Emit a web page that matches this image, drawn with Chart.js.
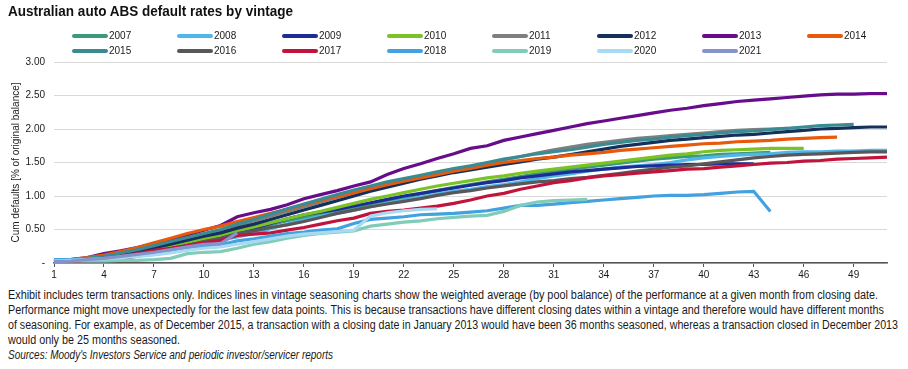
<!DOCTYPE html>
<html><head><meta charset="utf-8">
<script src="https://cdn.jsdelivr.net/npm/chart.js@4.4.0/dist/chart.umd.min.js"></script>
<style>
html,body{margin:0;padding:0;background:#fff;width:908px;height:369px;overflow:hidden}
#wrap{position:relative;width:908px;height:369px}
#c{position:absolute;left:0;top:0}
#title{position:absolute;left:8px;top:2px;font-family:"Liberation Sans",Arial,sans-serif;font-weight:bold;font-size:15px;line-height:18px;color:#111;white-space:nowrap;transform-origin:0 0}
#note{position:absolute;left:8px;top:288px;font-family:"Liberation Sans",Arial,sans-serif;font-size:12px;line-height:15px;color:#1a1a1a;white-space:nowrap}
#note .ln{display:block;width:max-content;transform-origin:0 0}
</style></head><body>
<div id="wrap"><canvas id="c" width="908" height="285" style="width:908px;height:285px"></canvas>
<div id="title" data-w="285">Australian auto ABS default rates by vintage</div>
<div id="note"><span class="ln" data-w="870">Exhibit includes term transactions only. Indices lines in vintage seasoning charts show the weighted average (by pool balance) of the performance at a given month from closing date.</span><span class="ln" data-w="876">Performance might move unexpectedly for the last few data points. This is because transactions have different closing dates within a vintage and therefore would have different months</span><span class="ln" data-w="890">of seasoning. For example, as of December 2015, a transaction with a closing date in January 2013 would have been 36 months seasoned, whereas a transaction closed in December 2013</span><span class="ln" data-w="172">would only be 25 months seasoned.</span><span class="ln" data-w="325" style="font-style:italic">Sources: Moody's Investors Service and periodic investor/servicer reports</span></div>
</div>
<script>
const months = ['1','2','3','4','5','6','7','8','9','10','11','12','13','14','15','16','17','18','19','20','21','22','23','24','25','26','27','28','29','30','31','32','33','34','35','36','37','38','39','40','41','42','43','44','45','46','47','48','49','50','51'];
const vintages = ['2007','2008','2009','2010','2011','2012','2013','2014','2015','2016','2017','2018','2019','2020','2021'];
const yTicks = [0, 0.5, 1, 1.5, 2, 2.5, 3];

const v2007 = [0.03,0.04,0.06,0.09,0.12,0.16,0.20,0.25,0.30,0.35,0.40,0.46,0.51,0.57,0.63,0.68,0.73,0.78,0.83,0.88,0.93,0.98,1.03,1.08,1.13,1.17,1.21,1.25,1.29,1.33,1.37,1.40,1.43,1.46,1.49,1.52,1.55,1.57,1.59,1.60,1.62,1.63,1.64,1.65];
const v2008 = [0.04,0.05,0.06,0.08,0.10,0.13,0.16,0.20,0.25,0.30,0.34,0.39,0.44,0.51,0.58,0.64,0.70,0.74,0.79,0.84,0.89,0.94,0.98,1.03,1.07,1.10,1.14,1.17,1.21,1.26,1.30,1.33,1.37,1.40,1.43,1.45,1.47,1.50,1.54,1.57,1.59,1.61,1.62,1.63,1.65,1.66,1.66,1.67,1.67,1.68,1.68];
const v2009 = [0.02,0.03,0.05,0.08,0.11,0.15,0.20,0.25,0.30,0.35,0.39,0.46,0.52,0.59,0.66,0.72,0.76,0.80,0.85,0.90,0.95,1.00,1.04,1.08,1.12,1.16,1.20,1.23,1.27,1.30,1.33,1.36,1.38,1.40,1.42,1.44,1.45,1.46,1.47,1.47,1.48,1.48,1.48];
const v2010 = [0.02,0.04,0.06,0.08,0.12,0.16,0.21,0.26,0.31,0.36,0.41,0.48,0.54,0.60,0.66,0.72,0.77,0.83,0.89,0.95,1.00,1.05,1.10,1.15,1.19,1.23,1.27,1.30,1.34,1.37,1.40,1.43,1.46,1.49,1.52,1.55,1.58,1.61,1.63,1.66,1.68,1.69,1.70,1.71,1.71,1.71];
const v2011 = [0.03,0.05,0.07,0.10,0.14,0.19,0.24,0.30,0.36,0.42,0.48,0.56,0.63,0.70,0.77,0.84,0.91,0.98,1.05,1.11,1.17,1.23,1.29,1.34,1.39,1.44,1.49,1.54,1.59,1.64,1.69,1.73,1.77,1.80,1.83,1.86,1.88,1.90,1.92,1.94,1.96,1.98,1.99,2.00,2.01];
const v2012 = [0.02,0.04,0.06,0.09,0.13,0.18,0.23,0.28,0.34,0.40,0.45,0.52,0.58,0.65,0.72,0.79,0.86,0.93,1.00,1.07,1.13,1.19,1.25,1.30,1.35,1.39,1.43,1.47,1.51,1.55,1.58,1.62,1.66,1.70,1.74,1.77,1.80,1.83,1.85,1.87,1.89,1.91,1.92,1.94,1.96,1.98,2.00,2.01,2.02,2.03,2.03];
const v2013 = [0.03,0.05,0.08,0.14,0.18,0.23,0.29,0.35,0.42,0.49,0.56,0.69,0.75,0.80,0.87,0.96,1.02,1.08,1.15,1.21,1.32,1.41,1.48,1.56,1.63,1.71,1.75,1.83,1.88,1.93,1.98,2.03,2.08,2.12,2.16,2.20,2.24,2.28,2.31,2.35,2.38,2.41,2.43,2.45,2.47,2.49,2.51,2.52,2.52,2.53,2.53];
const v2014 = [0.03,0.05,0.08,0.12,0.17,0.23,0.30,0.37,0.44,0.50,0.55,0.62,0.68,0.74,0.80,0.87,0.93,0.99,1.05,1.11,1.17,1.22,1.27,1.32,1.37,1.41,1.46,1.50,1.53,1.56,1.58,1.61,1.63,1.65,1.68,1.70,1.72,1.74,1.76,1.78,1.79,1.81,1.82,1.83,1.85,1.86,1.87,1.88];
const v2015 = [0.02,0.04,0.07,0.10,0.15,0.20,0.26,0.32,0.38,0.44,0.50,0.58,0.65,0.73,0.81,0.88,0.95,1.02,1.09,1.15,1.21,1.26,1.31,1.36,1.41,1.45,1.50,1.55,1.59,1.63,1.66,1.69,1.73,1.77,1.80,1.83,1.85,1.88,1.90,1.92,1.94,1.96,1.97,1.99,2.01,2.03,2.05,2.06,2.07];
const v2016 = [0.01,0.01,0.02,0.03,0.06,0.10,0.15,0.20,0.26,0.32,0.37,0.44,0.48,0.53,0.57,0.62,0.68,0.74,0.79,0.84,0.88,0.92,0.96,1.01,1.05,1.08,1.12,1.15,1.18,1.21,1.23,1.26,1.28,1.31,1.34,1.37,1.40,1.43,1.45,1.48,1.51,1.54,1.57,1.59,1.61,1.62,1.63,1.64,1.65,1.66,1.66];
const v2017 = [0.01,0.02,0.04,0.07,0.10,0.14,0.19,0.22,0.26,0.30,0.34,0.41,0.43,0.45,0.49,0.53,0.58,0.63,0.67,0.74,0.77,0.79,0.82,0.85,0.89,0.94,1.00,1.04,1.10,1.15,1.20,1.23,1.27,1.30,1.32,1.34,1.36,1.38,1.40,1.41,1.43,1.45,1.47,1.49,1.50,1.52,1.53,1.55,1.56,1.57,1.58];
const v2018 = [0.05,0.05,0.06,0.07,0.09,0.11,0.13,0.16,0.20,0.24,0.27,0.33,0.36,0.40,0.44,0.46,0.49,0.51,0.59,0.65,0.67,0.69,0.72,0.73,0.74,0.76,0.78,0.82,0.86,0.86,0.88,0.90,0.92,0.94,0.96,0.98,1.00,1.01,1.01,1.02,1.04,1.06,1.07,0.77];
const v2019 = [0.03,0.03,0.03,0.03,0.04,0.04,0.05,0.07,0.14,0.16,0.17,0.22,0.28,0.32,0.37,0.41,0.44,0.46,0.48,0.55,0.58,0.61,0.63,0.66,0.68,0.70,0.71,0.77,0.86,0.91,0.93,0.94,0.95];
const v2020 = [0.03,0.04,0.05,0.06,0.08,0.10,0.12,0.15,0.19,0.22,0.24,0.28,0.32,0.36,0.40,0.43,0.45,0.47,0.49,0.70,0.75,0.78,0.80,0.81];
const v2021 = [0.02,0.03,0.05,0.07,0.10,0.13,0.16,0.20,0.24,0.28,0.29,0.45];

const seriesValues = [v2007,v2008,v2009,v2010,v2011,v2012,v2013,v2014,v2015,v2016,v2017,v2018,v2019,v2020,v2021];
const seriesColors = ['#3d9a78','#4fb6e9','#1b2e98','#7bc225','#7f7f7f','#15305a','#670d8c','#e8590c','#3a8b92','#58585a','#c0143c','#42a1df','#80ccb8','#a8daf3','#8393cc'];

const datasets = vintages.map((v, i) => ({
  label: v,
  data: seriesValues[i],
  borderColor: seriesColors[i],
  backgroundColor: seriesColors[i],
  borderWidth: 3.2,
  pointRadius: 0,
  pointHoverRadius: 0,
  tension: 0,
  fill: false,
  order: -i
}));

const legendPlugin = {
  id: 'vintageLegend',
  afterDraw(chart) {
    const ctx = chart.ctx;
    ctx.save();
    chart.data.datasets.forEach((ds, i) => {
      const col = i % 8, row = Math.floor(i / 8);
      const x = 72 + col * 105, y = 36 + row * 15;
      ctx.strokeStyle = ds.borderColor;
      ctx.lineWidth = 4;
      ctx.lineCap = 'round';
      ctx.beginPath(); ctx.moveTo(x + 2, y); ctx.lineTo(x + 34, y); ctx.stroke();
      ctx.fillStyle = '#1a1a1a';
      ctx.font = '10px "Liberation Sans", Arial, sans-serif';
      ctx.textBaseline = 'middle';
      ctx.textAlign = 'left';
      ctx.fillText(ds.label, x + 37, y + 0.5);
    });
    ctx.restore();
  }
};

new Chart(document.getElementById('c'), {
  type: 'line',
  data: { labels: months, datasets },
  plugins: [legendPlugin],
  options: {
    responsive: false,
    animation: false,
    events: [],
    layout: { padding: { left: 8, right: 21, top: 62, bottom: 0 } },
    plugins: {
      legend: { display: false },
      tooltip: { enabled: false },
      title: { display: false }
    },
    scales: {
      x: {
        offset: false,
        grid: {
          drawOnChartArea: false,
          drawTicks: true,
          tickLength: 4,
          color: '#555'
        },
        border: { display: true, color: '#555', width: 1.5 },
        ticks: {
          autoSkip: false,
          maxRotation: 0,
          padding: 2,
          color: '#1a1a1a',
          font: { family: '"Liberation Sans", Arial, sans-serif', size: 10 },
          callback: function(value, index) { return index % 3 === 0 ? this.getLabelForValue(value) : null; }
        },
        afterFit(scale) { scale.height = 22; }
      },
      y: {
        min: 0,
        max: 3,
        afterBuildTicks(scale) { scale.ticks = yTicks.map(v => ({ value: v })); },
        grid: { color: '#d9d9d9', lineWidth: 1, drawTicks: false },
        border: { display: false },
        ticks: {
          padding: 9,
          color: '#1a1a1a',
          font: { family: '"Liberation Sans", Arial, sans-serif', size: 10 },
          callback: v => v === 0 ? '-' : v.toFixed(2)
        },
        title: {
          display: true,
          text: 'Cum defaults [% of original balance]',
          color: '#1a1a1a',
          font: { family: '"Liberation Sans", Arial, sans-serif', size: 10 },
          padding: { top: 2, bottom: 0 }
        },
        afterFit(scale) { scale.width = 46; }
      }
    }
  }
});

// condense text lines horizontally to the reference widths
document.querySelectorAll('[data-w]').forEach(el => {
  const w = el.getBoundingClientRect().width;
  const target = parseFloat(el.getAttribute('data-w'));
  if (w > 0) el.style.transform = 'scaleX(' + (target / w) + ')';
});
</script>
</body></html>
